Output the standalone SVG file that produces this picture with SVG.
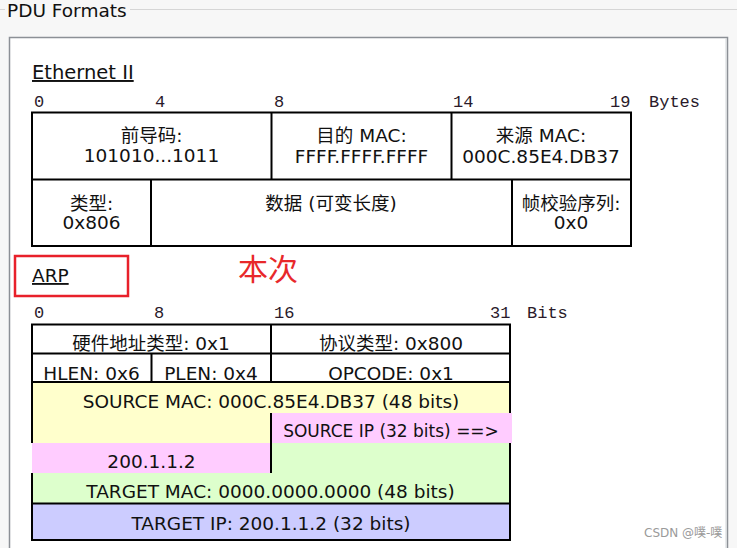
<svg xmlns="http://www.w3.org/2000/svg" width="737" height="548" viewBox="0 0 737 548">
<style>
.t{font-family:"DejaVu Sans","Noto Sans CJK SC",sans-serif;font-size:18.5px;fill:#111;}
.c{text-anchor:middle;}
.m{font-family:"Liberation Mono","Courier New",monospace;font-size:17px;fill:#2a1a2a;}
.b{stroke:#000;stroke-width:2;fill:none;}
</style>
<rect x="0" y="0" width="737" height="548" fill="#f7f7f7"/>
<g id="frame">
<line x1="0" y1="9.5" x2="5" y2="9.5" stroke="#d6d6d6" stroke-width="1"/>
<line x1="130" y1="9.5" x2="737" y2="9.5" stroke="#d6d6d6" stroke-width="1"/>
<text x="7" y="17" class="t">PDU Formats</text>
<rect x="9.5" y="37.5" width="718" height="520" fill="#fff" stroke="#8c9096" stroke-width="1.5"/>
<line x1="726" y1="38.5" x2="726" y2="548" stroke="#d0d4d8" stroke-width="1"/>
</g>
<g id="ethernet">
<text x="32" y="79" class="t" style="font-size:19.5px" text-decoration="underline">Ethernet II</text>
<g class="m">
<text x="34" y="107">0</text>
<text x="155" y="107">4</text>
<text x="274" y="107">8</text>
<text x="453" y="107">14</text>
<text x="610" y="107">19</text>
<text x="649" y="107">Bytes</text>
</g>
<rect x="32" y="112.5" width="599" height="133.5" class="b"/>
<line x1="32" y1="179.5" x2="631" y2="179.5" class="b"/>
<line x1="271.5" y1="112" x2="271.5" y2="179.5" class="b"/>
<line x1="451.5" y1="112" x2="451.5" y2="179.5" class="b"/>
<line x1="151" y1="179.5" x2="151" y2="246" class="b"/>
<line x1="512" y1="179.5" x2="512" y2="246" class="b"/>
<g id="preamble"><text x="151.5" y="142" class="t c">前导码:</text><text x="151.5" y="162" class="t c">101010...1011</text></g>
<g id="dstmac"><text x="361.5" y="142" class="t c">目的 MAC:</text><text x="361.5" y="163" class="t c">FFFF.FFFF.FFFF</text></g>
<g id="srcmac"><text x="541" y="142" class="t c">来源 MAC:</text><text x="541" y="163" class="t c">000C.85E4.DB37</text></g>
<g id="type"><text x="91.5" y="210" class="t c">类型:</text><text x="91.5" y="229" class="t c">0x806</text></g>
<g id="data"><text x="331" y="210" class="t c">数据 (可变长度)</text></g>
<g id="fcs"><text x="571" y="210" class="t c">帧校验序列:</text><text x="571" y="229" class="t c">0x0</text></g>
</g>
<g id="arp-label">
<rect x="15" y="256" width="113" height="40" fill="none" stroke="#e8202a" stroke-width="2.5"/>
<text x="32" y="282" class="t" text-decoration="underline">ARP</text>
<text x="238" y="280" font-family="'Noto Sans CJK SC',sans-serif" font-size="30" fill="#e8282a">本次</text>
</g>
<g id="arp">
<g class="m">
<text x="34" y="318">0</text>
<text x="154" y="318">8</text>
<text x="274" y="318">16</text>
<text x="490" y="318">31</text>
<text x="527" y="318">Bits</text>
</g>
<rect x="32" y="382" width="478" height="61" fill="#ffffcc"/>
<rect x="271" y="413" width="241" height="30" fill="#ffccff"/>
<rect x="32" y="443" width="239" height="30" fill="#ffccff"/>
<rect x="271" y="443" width="239" height="30" fill="#ddffcc"/>
<rect x="32" y="473" width="478" height="30" fill="#ddffcc"/>
<rect x="32" y="503" width="478" height="37" fill="#ccccff"/>
<rect x="32" y="324.5" width="478" height="57.5" class="b" fill="#fff"/>
<line x1="32" y1="353.5" x2="510" y2="353.5" class="b"/>
<line x1="271" y1="324" x2="271" y2="382" class="b"/>
<line x1="151.5" y1="353.5" x2="151.5" y2="382" class="b"/>
<line x1="32" y1="382" x2="32" y2="443" class="b"/>
<line x1="32" y1="473" x2="32" y2="541" class="b"/>
<line x1="510" y1="382" x2="510" y2="413" class="b"/>
<line x1="510" y1="443" x2="510" y2="541" class="b"/>
<line x1="271" y1="413" x2="271" y2="473" class="b"/>
<line x1="32" y1="503.5" x2="510" y2="503.5" class="b"/>
<line x1="31" y1="540" x2="511" y2="540" class="b"/>
<g id="hwtype"><text x="151" y="350" class="t c">硬件地址类型: 0x1</text></g>
<g id="ptype"><text x="391" y="350" class="t c">协议类型: 0x800</text></g>
<g id="hlen"><text x="91.5" y="380" class="t c">HLEN: 0x6</text></g>
<g id="plen"><text x="211" y="380" class="t c">PLEN: 0x4</text></g>
<g id="opcode"><text x="391" y="380" class="t c">OPCODE: 0x1</text></g>
<g id="smac"><text x="271" y="408" class="t c">SOURCE MAC: 000C.85E4.DB37 (48 bits)</text></g>
<g id="sip"><text x="391" y="437" class="t c" style="font-size:17px">SOURCE IP (32 bits) ==&gt;</text><text x="151.5" y="468" class="t c">200.1.1.2</text></g>
<g id="tmac"><text x="270.5" y="498" class="t c">TARGET MAC: 0000.0000.0000 (48 bits)</text></g>
<g id="tip"><text x="271" y="530" class="t c">TARGET IP: 200.1.1.2 (32 bits)</text></g>
</g>
<text x="644" y="537" font-family="'DejaVu Sans','Noto Sans CJK SC',sans-serif" font-size="12" fill="#9a9a9a">CSDN @噗-噗</text>
</svg>
